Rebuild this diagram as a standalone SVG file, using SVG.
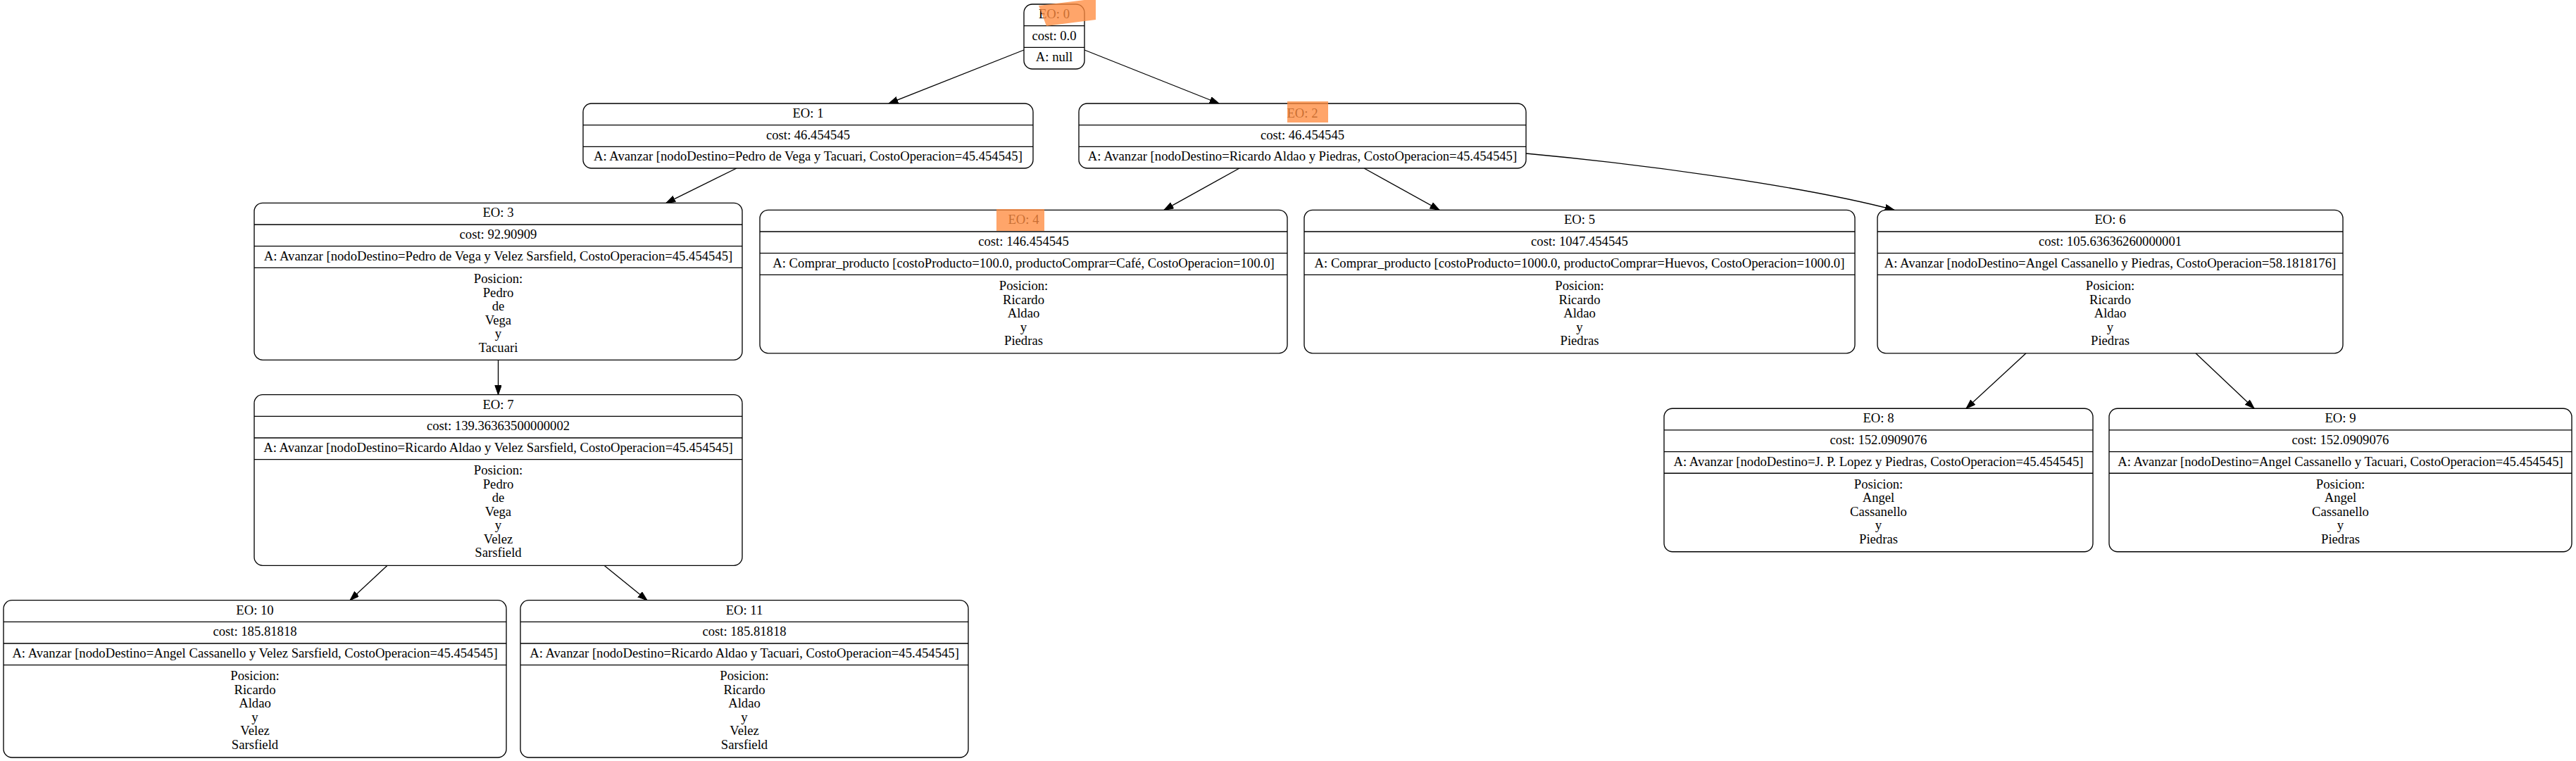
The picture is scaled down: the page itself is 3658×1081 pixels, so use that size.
<svg xmlns="http://www.w3.org/2000/svg" width="3658" height="1081" viewBox="0 0 3658 1081">
<style>
.box{fill:#fff;stroke:#000;stroke-width:1.33}
.dv{stroke:#000;stroke-width:1.33}
text{font-family:"Liberation Serif","Times New Roman",serif;font-size:18.67px;text-anchor:middle;fill:#000}
.edge{stroke:#000;stroke-width:1.33;fill:none}
.hl{fill:#ff8c40;opacity:0.78}
</style>
<defs>
<marker id="arr" markerUnits="userSpaceOnUse" markerWidth="14" markerHeight="10" refX="13.3" refY="4.67" orient="auto">
<path d="M0,0 L13.3,4.67 L0,9.33 z" fill="#000" stroke="#000" stroke-width="1"/>
</marker>
</defs>
<rect width="3658" height="1081" fill="#fff"/>
<g id="edges">
<path class="edge" d="M1454,71 L1262,147" marker-end="url(#arr)"/>
<path class="edge" d="M1540,71 L1731,147" marker-end="url(#arr)"/>
<path class="edge" d="M1046,239 L946,288.3" marker-end="url(#arr)"/>
<path class="edge" d="M1760,239 L1653,298.3" marker-end="url(#arr)"/>
<path class="edge" d="M1937,239 L2044,298.3" marker-end="url(#arr)"/>
<path class="edge" d="M2167,218 C2330,233 2560,264 2690,298.3" marker-end="url(#arr)"/>
<path class="edge" d="M707.5,511.3 L707.5,560.7" marker-end="url(#arr)"/>
<path class="edge" d="M2877,501.8 L2792,580.25" marker-end="url(#arr)"/>
<path class="edge" d="M3118,501.8 L3201,580.25" marker-end="url(#arr)"/>
<path class="edge" d="M550,803.3 L497,852.7" marker-end="url(#arr)"/>
<path class="edge" d="M858,803.3 L919,852.7" marker-end="url(#arr)"/>
</g>
<g id="node0">
<rect class="box" x="1454" y="6" width="86" height="92" rx="12"/>
<line class="dv" x1="1454" y1="36.67" x2="1540" y2="36.67"/>
<line class="dv" x1="1454" y1="67.33" x2="1540" y2="67.33"/>
<text x="1497" y="26">EO: 0</text>
<text x="1497" y="56.7">cost: 0.0</text>
<text x="1497" y="87.3">A: null</text>
</g>
<g id="node1">
<rect class="box" x="828" y="147" width="639" height="92" rx="12"/>
<line class="dv" x1="828" y1="177.67" x2="1467" y2="177.67"/>
<line class="dv" x1="828" y1="208.33" x2="1467" y2="208.33"/>
<text x="1147.5" y="167">EO: 1</text>
<text x="1147.5" y="197.7">cost: 46.454545</text>
<text x="1147.5" y="228.3">A: Avanzar [nodoDestino=Pedro de Vega y Tacuari, CostoOperacion=45.454545]</text>
</g>
<g id="node2">
<rect class="box" x="1532" y="147" width="635" height="92" rx="12"/>
<line class="dv" x1="1532" y1="177.67" x2="2167" y2="177.67"/>
<line class="dv" x1="1532" y1="208.33" x2="2167" y2="208.33"/>
<text x="1849.5" y="167">EO: 2</text>
<text x="1849.5" y="197.7">cost: 46.454545</text>
<text x="1849.5" y="228.3">A: Avanzar [nodoDestino=Ricardo Aldao y Piedras, CostoOperacion=45.454545]</text>
</g>
<g id="node3">
<rect class="box" x="361" y="288.3" width="693" height="223" rx="12"/>
<line class="dv" x1="361" y1="318.97" x2="1054" y2="318.97"/>
<line class="dv" x1="361" y1="349.63" x2="1054" y2="349.63"/>
<line class="dv" x1="361" y1="380.3" x2="1054" y2="380.3"/>
<text x="707.5" y="308.3">EO: 3</text>
<text x="707.5" y="339">cost: 92.90909</text>
<text x="707.5" y="369.6">A: Avanzar [nodoDestino=Pedro de Vega y Velez Sarsfield, CostoOperacion=45.454545]</text>
<text><tspan x="707.5" y="402">Posicion:</tspan><tspan x="707.5" y="421.5">Pedro</tspan><tspan x="707.5" y="441">de</tspan><tspan x="707.5" y="460.5">Vega</tspan><tspan x="707.5" y="480">y</tspan><tspan x="707.5" y="499.5">Tacuari</tspan></text>
</g>
<g id="node4">
<rect class="box" x="1079" y="298.3" width="749" height="203.5" rx="12"/>
<line class="dv" x1="1079" y1="328.97" x2="1828" y2="328.97"/>
<line class="dv" x1="1079" y1="359.63" x2="1828" y2="359.63"/>
<line class="dv" x1="1079" y1="390.3" x2="1828" y2="390.3"/>
<text x="1453.5" y="318.3">EO: 4</text>
<text x="1453.5" y="349">cost: 146.454545</text>
<text x="1453.5" y="379.6">A: Comprar_producto [costoProducto=100.0, productoComprar=Café, CostoOperacion=100.0]</text>
<text><tspan x="1453.5" y="412">Posicion:</tspan><tspan x="1453.5" y="431.5">Ricardo</tspan><tspan x="1453.5" y="451">Aldao</tspan><tspan x="1453.5" y="470.5">y</tspan><tspan x="1453.5" y="490">Piedras</tspan></text>
</g>
<g id="node5">
<rect class="box" x="1852" y="298.3" width="782" height="203.5" rx="12"/>
<line class="dv" x1="1852" y1="328.97" x2="2634" y2="328.97"/>
<line class="dv" x1="1852" y1="359.63" x2="2634" y2="359.63"/>
<line class="dv" x1="1852" y1="390.3" x2="2634" y2="390.3"/>
<text x="2243" y="318.3">EO: 5</text>
<text x="2243" y="349">cost: 1047.454545</text>
<text x="2243" y="379.6">A: Comprar_producto [costoProducto=1000.0, productoComprar=Huevos, CostoOperacion=1000.0]</text>
<text><tspan x="2243" y="412">Posicion:</tspan><tspan x="2243" y="431.5">Ricardo</tspan><tspan x="2243" y="451">Aldao</tspan><tspan x="2243" y="470.5">y</tspan><tspan x="2243" y="490">Piedras</tspan></text>
</g>
<g id="node6">
<rect class="box" x="2666" y="298.3" width="661" height="203.5" rx="12"/>
<line class="dv" x1="2666" y1="328.97" x2="3327" y2="328.97"/>
<line class="dv" x1="2666" y1="359.63" x2="3327" y2="359.63"/>
<line class="dv" x1="2666" y1="390.3" x2="3327" y2="390.3"/>
<text x="2996.5" y="318.3">EO: 6</text>
<text x="2996.5" y="349">cost: 105.63636260000001</text>
<text x="2996.5" y="379.6">A: Avanzar [nodoDestino=Angel Cassanello y Piedras, CostoOperacion=58.1818176]</text>
<text><tspan x="2996.5" y="412">Posicion:</tspan><tspan x="2996.5" y="431.5">Ricardo</tspan><tspan x="2996.5" y="451">Aldao</tspan><tspan x="2996.5" y="470.5">y</tspan><tspan x="2996.5" y="490">Piedras</tspan></text>
</g>
<g id="node7">
<rect class="box" x="361" y="560.7" width="693" height="242.6" rx="12"/>
<line class="dv" x1="361" y1="591.37" x2="1054" y2="591.37"/>
<line class="dv" x1="361" y1="622.03" x2="1054" y2="622.03"/>
<line class="dv" x1="361" y1="652.7" x2="1054" y2="652.7"/>
<text x="707.5" y="580.7">EO: 7</text>
<text x="707.5" y="611.4">cost: 139.36363500000002</text>
<text x="707.5" y="642">A: Avanzar [nodoDestino=Ricardo Aldao y Velez Sarsfield, CostoOperacion=45.454545]</text>
<text><tspan x="707.5" y="674.4">Posicion:</tspan><tspan x="707.5" y="693.9">Pedro</tspan><tspan x="707.5" y="713.4">de</tspan><tspan x="707.5" y="732.9">Vega</tspan><tspan x="707.5" y="752.4">y</tspan><tspan x="707.5" y="771.9">Velez</tspan><tspan x="707.5" y="791.4">Sarsfield</tspan></text>
</g>
<g id="node8">
<rect class="box" x="2363" y="580.25" width="609" height="203.5" rx="12"/>
<line class="dv" x1="2363" y1="610.92" x2="2972" y2="610.92"/>
<line class="dv" x1="2363" y1="641.58" x2="2972" y2="641.58"/>
<line class="dv" x1="2363" y1="672.25" x2="2972" y2="672.25"/>
<text x="2667.5" y="600.25">EO: 8</text>
<text x="2667.5" y="630.9">cost: 152.0909076</text>
<text x="2667.5" y="661.6">A: Avanzar [nodoDestino=J. P. Lopez y Piedras, CostoOperacion=45.454545]</text>
<text><tspan x="2667.5" y="693.95">Posicion:</tspan><tspan x="2667.5" y="713.45">Angel</tspan><tspan x="2667.5" y="732.95">Cassanello</tspan><tspan x="2667.5" y="752.45">y</tspan><tspan x="2667.5" y="771.95">Piedras</tspan></text>
</g>
<g id="node9">
<rect class="box" x="2995" y="580.25" width="657" height="203.5" rx="12"/>
<line class="dv" x1="2995" y1="610.92" x2="3652" y2="610.92"/>
<line class="dv" x1="2995" y1="641.58" x2="3652" y2="641.58"/>
<line class="dv" x1="2995" y1="672.25" x2="3652" y2="672.25"/>
<text x="3323.5" y="600.25">EO: 9</text>
<text x="3323.5" y="630.9">cost: 152.0909076</text>
<text x="3323.5" y="661.6">A: Avanzar [nodoDestino=Angel Cassanello y Tacuari, CostoOperacion=45.454545]</text>
<text><tspan x="3323.5" y="693.95">Posicion:</tspan><tspan x="3323.5" y="713.45">Angel</tspan><tspan x="3323.5" y="732.95">Cassanello</tspan><tspan x="3323.5" y="752.45">y</tspan><tspan x="3323.5" y="771.95">Piedras</tspan></text>
</g>
<g id="node10">
<rect class="box" x="5" y="852.7" width="714" height="223.3" rx="12"/>
<line class="dv" x1="5" y1="883.37" x2="719" y2="883.37"/>
<line class="dv" x1="5" y1="914.03" x2="719" y2="914.03"/>
<line class="dv" x1="5" y1="944.7" x2="719" y2="944.7"/>
<text x="362" y="872.7">EO: 10</text>
<text x="362" y="903.4">cost: 185.81818</text>
<text x="362" y="934">A: Avanzar [nodoDestino=Angel Cassanello y Velez Sarsfield, CostoOperacion=45.454545]</text>
<text><tspan x="362" y="966.4">Posicion:</tspan><tspan x="362" y="985.9">Ricardo</tspan><tspan x="362" y="1005.4">Aldao</tspan><tspan x="362" y="1024.9">y</tspan><tspan x="362" y="1044.4">Velez</tspan><tspan x="362" y="1063.9">Sarsfield</tspan></text>
</g>
<g id="node11">
<rect class="box" x="739" y="852.7" width="636" height="223.3" rx="12"/>
<line class="dv" x1="739" y1="883.37" x2="1375" y2="883.37"/>
<line class="dv" x1="739" y1="914.03" x2="1375" y2="914.03"/>
<line class="dv" x1="739" y1="944.7" x2="1375" y2="944.7"/>
<text x="1057" y="872.7">EO: 11</text>
<text x="1057" y="903.4">cost: 185.81818</text>
<text x="1057" y="934">A: Avanzar [nodoDestino=Ricardo Aldao y Tacuari, CostoOperacion=45.454545]</text>
<text><tspan x="1057" y="966.4">Posicion:</tspan><tspan x="1057" y="985.9">Ricardo</tspan><tspan x="1057" y="1005.4">Aldao</tspan><tspan x="1057" y="1024.9">y</tspan><tspan x="1057" y="1044.4">Velez</tspan><tspan x="1057" y="1063.9">Sarsfield</tspan></text>
</g>
<g id="highlights">
<polygon class="hl" points="1475,8 1556,-2 1556,28 1486,37"/>
<rect class="hl" x="1828" y="144" width="58" height="30"/>
<rect class="hl" x="1415" y="297" width="68" height="31"/>
</g>
</svg>
